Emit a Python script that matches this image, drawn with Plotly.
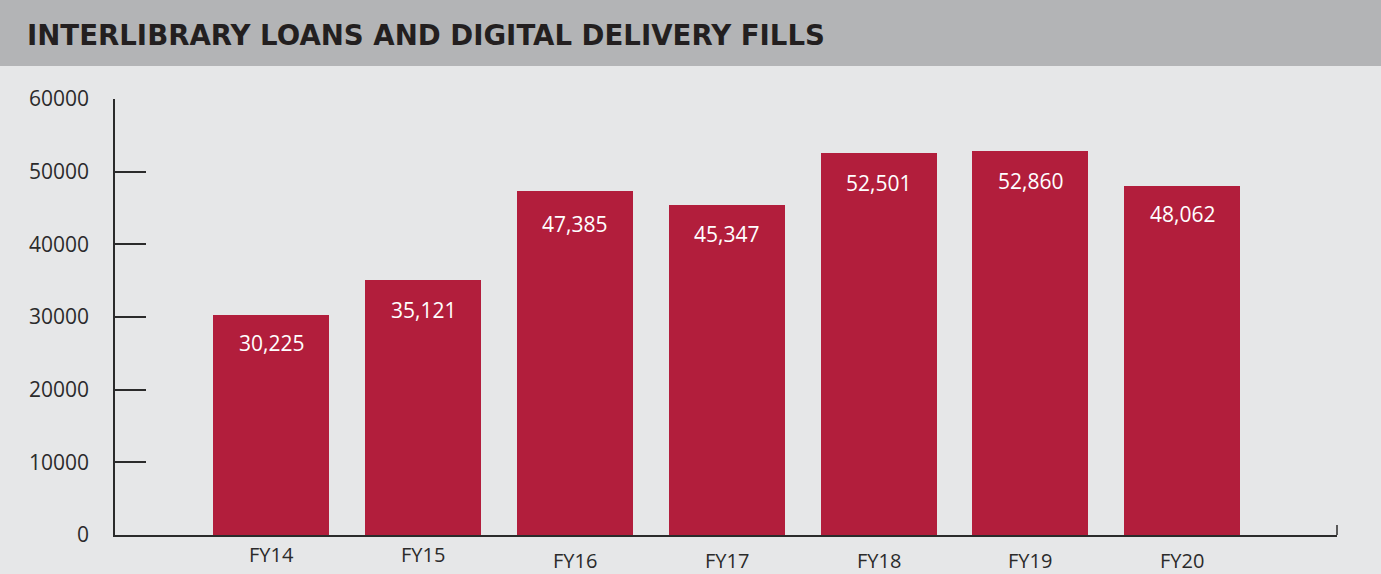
import plotly.graph_objects as go

years = ["FY14", "FY15", "FY16", "FY17", "FY18", "FY19", "FY20"]
fills = [30225, 35121, 47385, 45347, 52501, 52860, 48062]
y_ticks = [0, 10000, 20000, 30000, 40000, 50000, 60000]

# how far below each bar top its label sits, and how far below the axis each year label sits (px)
label_drop = [28, 30, 33, 29, 30, 30, 28]
year_drop = [19, 19, 25, 25, 25, 25, 25]

RED = "#b21e3c"
INK = "#2b2b2b"
FONT = "Open Sans"

fig = go.Figure()
fig.add_bar(x=years, y=fills, width=0.765, marker=dict(color=RED, line=dict(width=0)),
            hoverinfo="x+y")

for yr, v, d in zip(years, fills, label_drop):
    fig.add_annotation(x=yr, y=v, yshift=-d, text=f"{v:,}", showarrow=False,
                       yanchor="middle", font=dict(family=FONT, size=21, color="white"))

for yr, d in zip(years, year_drop):
    fig.add_annotation(x=yr, xref="x", y=0, yref="paper", yshift=-d, text=yr, showarrow=False,
                       yanchor="middle", font=dict(family=FONT, size=20, color=INK))

# grey header band
fig.add_shape(type="rect", xref="paper", yref="paper", x0=-0.2, x1=1.2,
              ysizemode="pixel", yanchor=1, y0=33, y1=110,
              fillcolor="#b3b4b6", line=dict(width=0), layer="below")
# little end tick on the baseline
fig.add_shape(type="line", xref="paper", yref="paper", x0=1, x1=1,
              ysizemode="pixel", yanchor=0, y0=0, y1=10,
              line=dict(color=INK, width=1.5))

fig.update_layout(
    width=1381, height=574,
    margin=dict(l=115, r=44, t=99, b=39),
    paper_bgcolor="#e6e7e8", plot_bgcolor="#e6e7e8",
    showlegend=False,
    bargap=0,
    title=dict(text="<b>INTERLIBRARY LOANS AND DIGITAL DELIVERY FILLS</b>",
               x=27 / 1381, xanchor="left", xref="container",
               y=1 - 35 / 574, yanchor="middle", yref="container",
               font=dict(family="DejaVu Sans", size=27.6, color="#231f20")),
    xaxis=dict(type="category", range=[-1.03, 7.02], showticklabels=False, ticks="",
               showline=True, linecolor=INK, linewidth=1.5, showgrid=False, zeroline=False,
               fixedrange=True),
    yaxis=dict(range=[0, 60000], tickvals=y_ticks, tickformat="d",
               ticks="inside", ticklen=31, tickwidth=1.5, tickcolor=INK,
               showline=True, linecolor=INK, linewidth=1.5, showgrid=False, zeroline=False,
               ticklabelstandoff=20, tickfont=dict(family=FONT, size=21, color=INK),
               fixedrange=True),
)

fig.write_html("out.html", config={"displayModeBar": False},
               post_script="document.body.style.margin='0';")
